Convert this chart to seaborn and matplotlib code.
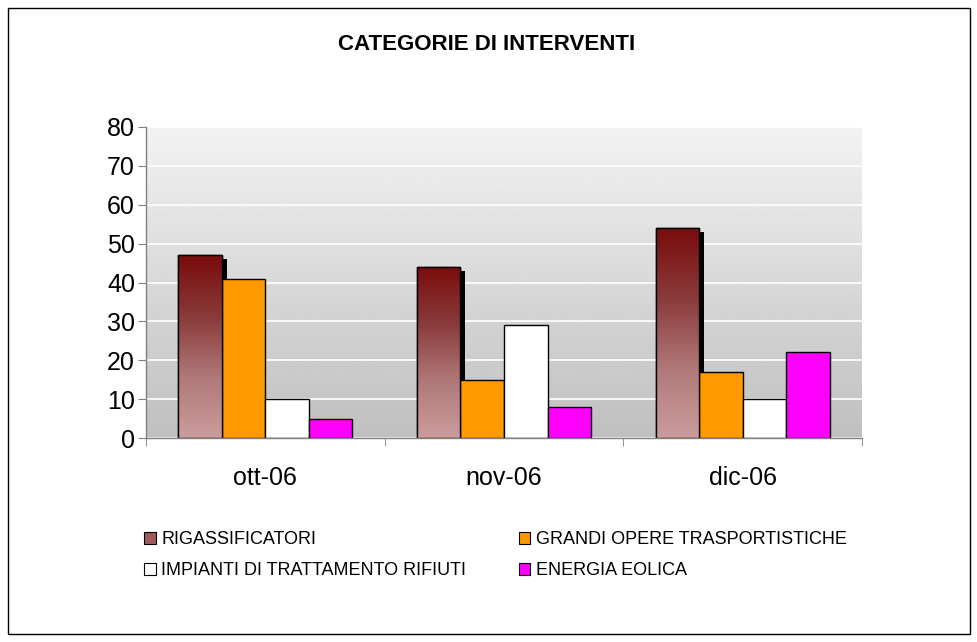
import numpy as np
import pandas as pd
import matplotlib
matplotlib.use('Agg')
import matplotlib.pyplot as plt
from matplotlib.patches import Rectangle, Patch
import seaborn as sns

mesi = ['ott-06', 'nov-06', 'dic-06']
categorie = ['RIGASSIFICATORI', 'GRANDI OPERE TRASPORTISTICHE',
             'IMPIANTI DI TRATTAMENTO RIFIUTI', 'ENERGIA EOLICA']
rigassificatori = [47, 44, 54]
grandi_opere = [41, 15, 17]
impianti_rifiuti = [10, 29, 10]
energia_eolica = [5, 8, 22]
colori = ['#b06a6a', '#ff9900', '#ffffff', '#ff00ff']

rows = []
for cat, vals in zip(categorie, [rigassificatori, grandi_opere, impianti_rifiuti, energia_eolica]):
    for m, v in zip(mesi, vals):
        rows.append({'mese': m, 'categoria': cat, 'valore': v})
df = pd.DataFrame(rows)

sns.set_style('white')
plt.rcParams['font.family'] = ['Liberation Sans', 'DejaVu Sans']
plt.rcParams['text.color'] = 'black'
plt.rcParams['xtick.color'] = 'black'
plt.rcParams['ytick.color'] = 'black'

fig = plt.figure(figsize=(9.77, 6.42), dpi=100)
ax = fig.add_axes([146/977, 1-438/642, (862-146)/977, (438-127)/642])

sns.barplot(data=df, x='mese', y='valore', hue='categoria', order=mesi,
            hue_order=categorie, palette=colori, width=0.73, gap=0,
            edgecolor='black', linewidth=1.0, saturation=1, ax=ax, zorder=3)

# sfondo sfumato (chiaro in alto, scuro in basso)
bg = np.linspace(0.75, 0.95, 256).reshape(-1, 1)
ax.imshow(bg, extent=[-0.5, 2.5, 0, 80], aspect='auto', cmap='gray',
          vmin=0, vmax=1, origin='lower', zorder=0)

# sfumatura + ombra sulla prima serie
red_cmap = matplotlib.colors.LinearSegmentedColormap.from_list(
    'r', ['#cc9c9c', '#b07878', '#8a3a3a', '#7a0c0c'])
n = len(mesi)
for p in ax.patches[:n]:
    x0, y0, w, h = p.get_x(), p.get_y(), p.get_width(), p.get_height()
    ax.add_patch(Rectangle((x0 + 0.02, 0), w, h - 1.0, facecolor='black',
                           edgecolor='none', zorder=2.5))
    grad = np.linspace(0, 1, 256).reshape(-1, 1)
    im = ax.imshow(grad, extent=[x0, x0 + w, y0, y0 + h], aspect='auto',
                   cmap=red_cmap, origin='lower', zorder=3.1)
    im.set_clip_path(p)
    ax.add_patch(Rectangle((x0, y0), w, h, facecolor='none', edgecolor='black',
                           linewidth=1.0, zorder=3.2))

ax.set_xlim(-0.5, 2.5)
ax.set_ylim(0, 80)
ax.set_yticks(range(0, 81, 10))
ax.yaxis.grid(True, color='white', linewidth=1.2, zorder=1)
ax.set_axisbelow(True)
ax.set_xlabel('')
ax.set_ylabel('')
ax.set_xticks([-0.5, 0.5, 1.5, 2.5], minor=True)
ax.tick_params(axis='x', which='major', length=0, pad=20, labelsize=18)
ax.tick_params(axis='x', which='minor', length=6, color='#808080', direction='out', bottom=True)
ax.tick_params(axis='y', length=6, color='#808080', direction='out', labelsize=18, left=True, pad=2)
for s in ['top', 'right']:
    ax.spines[s].set_visible(False)
for s in ['left', 'bottom']:
    ax.spines[s].set_color('#808080')
    ax.spines[s].set_linewidth(1.0)
    ax.spines[s].set_zorder(4)

fig.text(487/977, 1-45/642, 'CATEGORIE DI INTERVENTI', ha='center', va='center',
         fontsize=16, fontweight='bold')

handles = [Patch(facecolor=c, edgecolor='black', linewidth=0.8) for c in ['#a05a5a'] + colori[1:]]
order = [0, 2, 1, 3]
ax.get_legend().remove()
fig.legend([handles[i] for i in order], [categorie[i] for i in order], loc='upper left',
           bbox_to_anchor=(137/977, 1-524/642), ncol=2, frameon=False, fontsize=13,
           handlelength=0.65, handleheight=0.65, handletextpad=0.3, columnspacing=2.9,
           labelspacing=0.78, borderaxespad=0)

fig.patches.append(Rectangle((8/977, 8/642), 962/977, 626/642, transform=fig.transFigure,
                             facecolor='none', edgecolor='black', linewidth=1.0))

fig.savefig('out.png', dpi=100)
